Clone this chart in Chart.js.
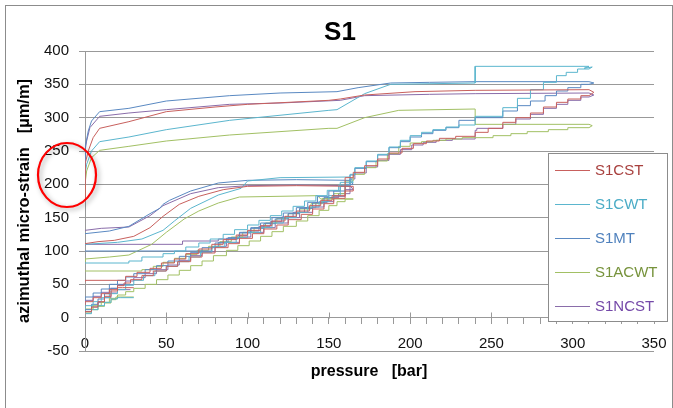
<!DOCTYPE html>
<html>
<head>
<meta charset="utf-8">
<script src="https://cdn.jsdelivr.net/npm/chart.js@4.4.1/dist/chart.umd.min.js"></script>
<style>
  html, body { margin: 0; padding: 0; background: #fff; }
  #wrap { width: 673px; height: 408px; }
</style>
</head>
<body>
<div id="wrap"><canvas id="s1Chart" width="673" height="408"></canvas></div>
<script>
// S1 - azimuthal micro-strain vs pressure
const xTicks = [0, 50, 100, 150, 200, 250, 300, 350];
const yTicks = [-50, 0, 50, 100, 150, 200, 250, 300, 350, 400];
const seriesNames = ['S1CST', 'S1CWT', 'S1MT', 'S1ACWT', 'S1NCST'];

// S1CST
const cstLoad1 = [[0,2],[4,9],[8,16],[12,24],[16,32],[20,40],[23,45],[30,45]];
const cstLoad2 = [[0,18],[5,24],[10,30],[15,36],[20,42],[24,48],[28,52],[35,57],[42,63],[50,70],[57,77],[65,84],[72,91],[80,97],[88,105],[95,111],[103,119],[110,126],[118,133],[125,139],[133,147],[140,155],[147,163],[153,171],[160,179],[165,190]];
const cstUnload2 = [[165,190],[165,197],[130,198],[100,197],[85,192],[70,182],[58,170],[48,152],[40,135],[30,122],[18,116],[8,114],[0,111]];
const cstLoad3 = [[0,53],[25,56],[32,62],[40,68],[47,74],[55,82],[62,88],[70,96],[78,103],[85,110],[93,117],[100,124],[108,131],[115,138],[123,145],[130,152],[138,160],[145,168],[152,176],[160,183],[165,210],[172,218],[180,228],[187,238],[195,247],[202,254],[210,261],[218,265],[228,269],[240,272],[248,278],[257,284],[265,293],[274,300],[282,307],[290,316],[297,323],[305,328],[310,333]];
const cstUnload3 = [[310,333],[313,338],[310,342],[240,341],[203,339],[172,334],[157,328],[150,326],[100,320],[80,316],[50,309],[27,294],[9,284],[5,270],[2,250],[0,230],[0,175]];

// S1CWT
const cwtLoad1 = [[0,0],[4,6],[8,12],[12,18],[16,23],[20,28],[22,30],[30,30]];
const cwtLoad2 = [[0,12],[5,18],[10,24],[15,30],[20,36],[25,42],[30,49],[36,56],[43,63],[50,70],[57,77],[64,84],[71,91],[78,98],[86,106],[93,113],[100,120],[108,128],[115,135],[122,142],[130,150],[137,158],[144,166],[150,174],[157,183],[165,203]];
const cwtUnload2 = [[165,203],[163,211],[120,210],[100,205],[96,194],[82,184],[65,164],[55,145],[48,131],[35,118],[20,113],[0,110]];
const cwtLoad3 = [[0,82],[27,82],[35,85],[48,91],[55,96],[62,100],[70,106],[77,112],[85,118],[92,125],[100,132],[107,139],[114,146],[121,153],[128,160],[135,167],[142,175],[149,183],[156,191],[163,199],[166,215],[173,225],[180,235],[187,245],[194,256],[200,266],[207,273],[214,278],[222,282],[230,286],[240,289],[257,302],[266,315],[274,329],[282,342],[290,353],[296,363],[303,368],[310,373]];
const cwtUnload3 = [[310,373],[312,376],[307,374],[310,377],[240,377],[240,352],[188,350],[172,336],[155,312],[150,311],[89,296],[50,282],[27,271],[9,264],[4,250],[1,230],[0,215],[0,200]];

// S1MT
const mtLoad1 = [[0,3],[4,12],[8,20],[12,28],[16,36],[20,44],[23,49],[30,49]];
const mtLoad2 = [[0,25],[5,31],[10,37],[15,43],[20,50],[25,56],[30,61],[37,66],[44,72],[51,78],[58,85],[65,92],[72,98],[80,105],[87,112],[95,119],[102,127],[110,134],[117,141],[125,148],[132,156],[140,164],[147,172],[153,180],[160,190],[165,200]];
const mtUnload2 = [[165,200],[163,206],[130,207],[100,206],[82,202],[65,190],[52,176],[48,170],[46,164],[40,156],[27,137],[15,130],[0,126]];
const mtLoad3 = [[0,100],[78,100],[82,106],[88,113],[95,120],[102,128],[108,135],[115,142],[122,150],[130,157],[137,165],[143,173],[150,182],[157,190],[163,197],[166,214],[173,224],[180,234],[187,244],[194,255],[200,264],[207,271],[214,276],[222,281],[230,285],[240,296],[257,300],[266,310],[274,318],[283,325],[290,333],[297,340],[305,345],[310,350]];
const mtUnload3 = [[310,350],[313,352],[310,354],[240,354],[212,353],[188,352],[168,345],[155,339],[120,337],[89,333],[50,325],[27,314],[9,309],[4,295],[2,280],[0,255],[0,210]];

// S1ACWT
const acwtLoad1 = [[0,1],[4,7],[8,12],[12,17],[16,22],[19,27],[21,31],[30,31]];
const acwtLoad2 = [[0,8],[5,13],[10,18],[15,23],[20,29],[25,34],[30,39],[37,44],[44,50],[51,57],[58,64],[65,71],[72,78],[79,85],[87,93],[94,101],[101,108],[108,115],[115,122],[122,129],[130,137],[137,145],[144,153],[150,161],[155,168],[160,174],[165,178]];
const acwtUnload2 = [[165,178],[145,178],[143,183],[95,181],[82,172],[70,160],[61,148],[50,128],[41,110],[27,94],[15,91],[0,88],[0,84]];
const acwtLoad3 = [[0,70],[35,70],[42,72],[48,77],[55,83],[62,89],[69,95],[76,101],[83,107],[90,114],[97,121],[104,128],[111,135],[118,142],[125,149],[132,156],[139,163],[146,171],[153,179],[160,186],[165,205],[172,215],[179,225],[186,235],[193,246],[200,257],[207,262],[214,264],[222,266],[232,268],[251,270],[262,273],[272,276],[285,279],[297,282],[310,285]];
const acwtUnload3 = [[310,285],[312,288],[310,290],[240,290],[240,313],[193,311],[172,300],[155,284],[150,284],[89,274],[50,265],[27,257],[9,251],[4,240],[1,220],[0,200],[0,185]];

// S1NCST
const ncstLoad1 = [[0,2],[4,9],[8,16],[12,23],[16,30],[20,37],[23,42],[28,42]];
const ncstLoad2 = [[0,20],[5,26],[10,32],[15,38],[20,44],[25,50],[30,55],[37,60],[44,66],[51,72],[58,79],[65,86],[72,93],[80,99],[87,107],[95,113],[102,121],[110,128],[117,135],[125,142],[132,150],[140,158],[147,166],[153,174],[160,182],[165,192]];
const ncstUnload2 = [[165,192],[163,198],[130,199],[100,198],[82,195],[65,186],[48,168],[40,153],[27,136],[10,134],[0,131]];
const ncstLoad3 = [[0,108],[60,110],[82,115],[94,118],[100,123],[107,130],[114,137],[121,144],[128,151],[135,158],[142,165],[149,173],[156,180],[163,186],[166,208],[173,217],[180,226],[187,236],[194,245],[201,252],[208,259],[216,263],[226,266],[240,268],[241,281],[257,284],[265,290],[274,298],[282,305],[290,314],[297,320],[305,326],[310,331]];
const ncstUnload3 = [[310,331],[313,334],[310,337],[240,336],[212,335],[172,333],[157,326],[120,322],[89,320],[50,312],[27,307],[9,302],[3,285],[1,265],[0,250],[0,200]];

const lineColors = ['#C8605D', '#5BB6CE', '#5A89C2', '#A2C064', '#8A6DAA'];
const textColors = ['#A8403E', '#4BACC6', '#4F81BD', '#77933C', '#7448A8'];

const groups = [
  [cstLoad1, cstLoad2, cstUnload2, cstLoad3, cstUnload3],
  [cwtLoad1, cwtLoad2, cwtUnload2, cwtLoad3, cwtUnload3],
  [mtLoad1, mtLoad2, mtUnload2, mtLoad3, mtUnload3],
  [acwtLoad1, acwtLoad2, acwtUnload2, acwtLoad3, acwtUnload3],
  [ncstLoad1, ncstLoad2, ncstUnload2, ncstLoad3, ncstUnload3]
];

const FONT = "'Liberation Sans', Arial, sans-serif";

// loading paths are stairs, unloading curves (index 2 and 4) are plain lines
const datasets = [];
groups.forEach((segs, i) => {
  segs.forEach((pts, k) => {
    datasets.push({
      label: seriesNames[i],
      data: pts.map(p => ({ x: p[0], y: p[1] })),
      borderColor: lineColors[i],
      borderWidth: 1,
      pointRadius: 0,
      showLine: true,
      fill: false,
      stepped: (k === 2 || k === 4) ? false : 'after',
      tension: 0
    });
  });
});

const extras = {
  id: 'extras',
  beforeDraw(chart) {
    const c = chart.ctx;
    c.save();
    c.fillStyle = '#fff';
    c.fillRect(0, 0, chart.width, chart.height);
    c.strokeStyle = '#8c8c8c';
    c.lineWidth = 1;
    c.strokeRect(5.5, 5.5, chart.width - 6, chart.height + 5);
    c.restore();
  },
  afterDraw(chart) {
    const c = chart.ctx;
    const xs = chart.scales.x, ys = chart.scales.y;
    c.save();
    // upward part of the major x ticks
    c.strokeStyle = '#999';
    c.lineWidth = 1;
    const y0 = Math.round(ys.getPixelForValue(0)) + 0.5;
    xTicks.forEach(v => {
      const px = Math.round(xs.getPixelForValue(v)) + 0.5;
      c.beginPath(); c.moveTo(px, y0 - 6); c.lineTo(px, y0); c.stroke();
    });

    // title and axis titles
    c.fillStyle = '#000';
    c.textAlign = 'center';
    c.textBaseline = 'middle';
    c.font = 'bold 26px ' + FONT;
    c.fillText('S1', 340, 33);
    c.font = 'bold 16px ' + FONT;
    c.fillText('pressure   [bar]', 369, 372);
    c.save();
    c.translate(24, 201);
    c.rotate(-Math.PI / 2);
    c.font = 'bold 16.5px ' + FONT;
    c.fillText('azimuthal micro-strain   [µm/m]', 0, 0);
    c.restore();

    // legend box
    const lx = 548, ly = 153, lw = 119, lh = 168;
    c.fillStyle = '#fff';
    c.fillRect(lx, ly, lw, lh);
    c.strokeStyle = '#8c8c8c';
    c.strokeRect(lx + 0.5, ly + 0.5, lw, lh);
    c.font = '15px ' + FONT;
    c.textAlign = 'left';
    seriesNames.forEach((name, i) => {
      const cy = ly + 17 + i * 34;
      c.strokeStyle = lineColors[i];
      c.lineWidth = 1.2;
      c.beginPath(); c.moveTo(555, cy + 0.5); c.lineTo(590, cy + 0.5); c.stroke();
      c.fillStyle = textColors[i];
      c.fillText(name, 595, cy + 1);
    });

    // red highlight ellipse
    c.save();
    c.shadowColor = 'rgba(0,0,0,0.35)';
    c.shadowBlur = 5;
    c.shadowOffsetX = 2;
    c.shadowOffsetY = 2;
    c.strokeStyle = '#ff0000';
    c.lineWidth = 2.2;
    c.beginPath();
    c.ellipse(67, 175, 29, 32, 0, 0, Math.PI * 2);
    c.stroke();
    c.restore();
    c.restore();
  }
};

new Chart(document.getElementById('s1Chart').getContext('2d'), {
  type: 'scatter',
  data: { datasets: datasets },
  options: {
    responsive: false,
    animation: false,
    devicePixelRatio: 1,
    layout: { padding: { left: 25, right: 19, top: 51, bottom: 57 } },
    plugins: { legend: { display: false }, tooltip: { enabled: false }, title: { display: false } },
    scales: {
      x: {
        type: 'linear', min: 0, max: 350,
        position: { y: 0 },
        afterFit: s => { s.height = 0; s.paddingLeft = 0; s.paddingRight = 0; },
        afterBuildTicks: s => {
          const t = [];
          for (let v = 0; v <= 350; v += 10) t.push({ value: v });
          s.ticks = t;
        },
        ticks: {
          autoSkip: false, maxRotation: 0, padding: 11,
          color: '#111', font: { family: FONT, size: 15 },
          callback: v => (xTicks.includes(v) ? String(v) : '')
        },
        grid: { drawOnChartArea: false, color: '#999', tickLength: 6 },
        border: { color: '#999' }
      },
      y: {
        type: 'linear', min: -50, max: 400,
        afterFit: s => { s.width = 60; s.paddingTop = 0; s.paddingBottom = 0; },
        afterBuildTicks: s => { s.ticks = yTicks.map(v => ({ value: v })); },
        ticks: {
          autoSkip: false, padding: 10, color: '#111', font: { family: FONT, size: 15 },
          callback: v => String(v)
        },
        grid: { color: '#999', tickLength: 6 },
        border: { color: '#999' }
      }
    }
  },
  plugins: [extras]
});
</script>
</body>
</html>
